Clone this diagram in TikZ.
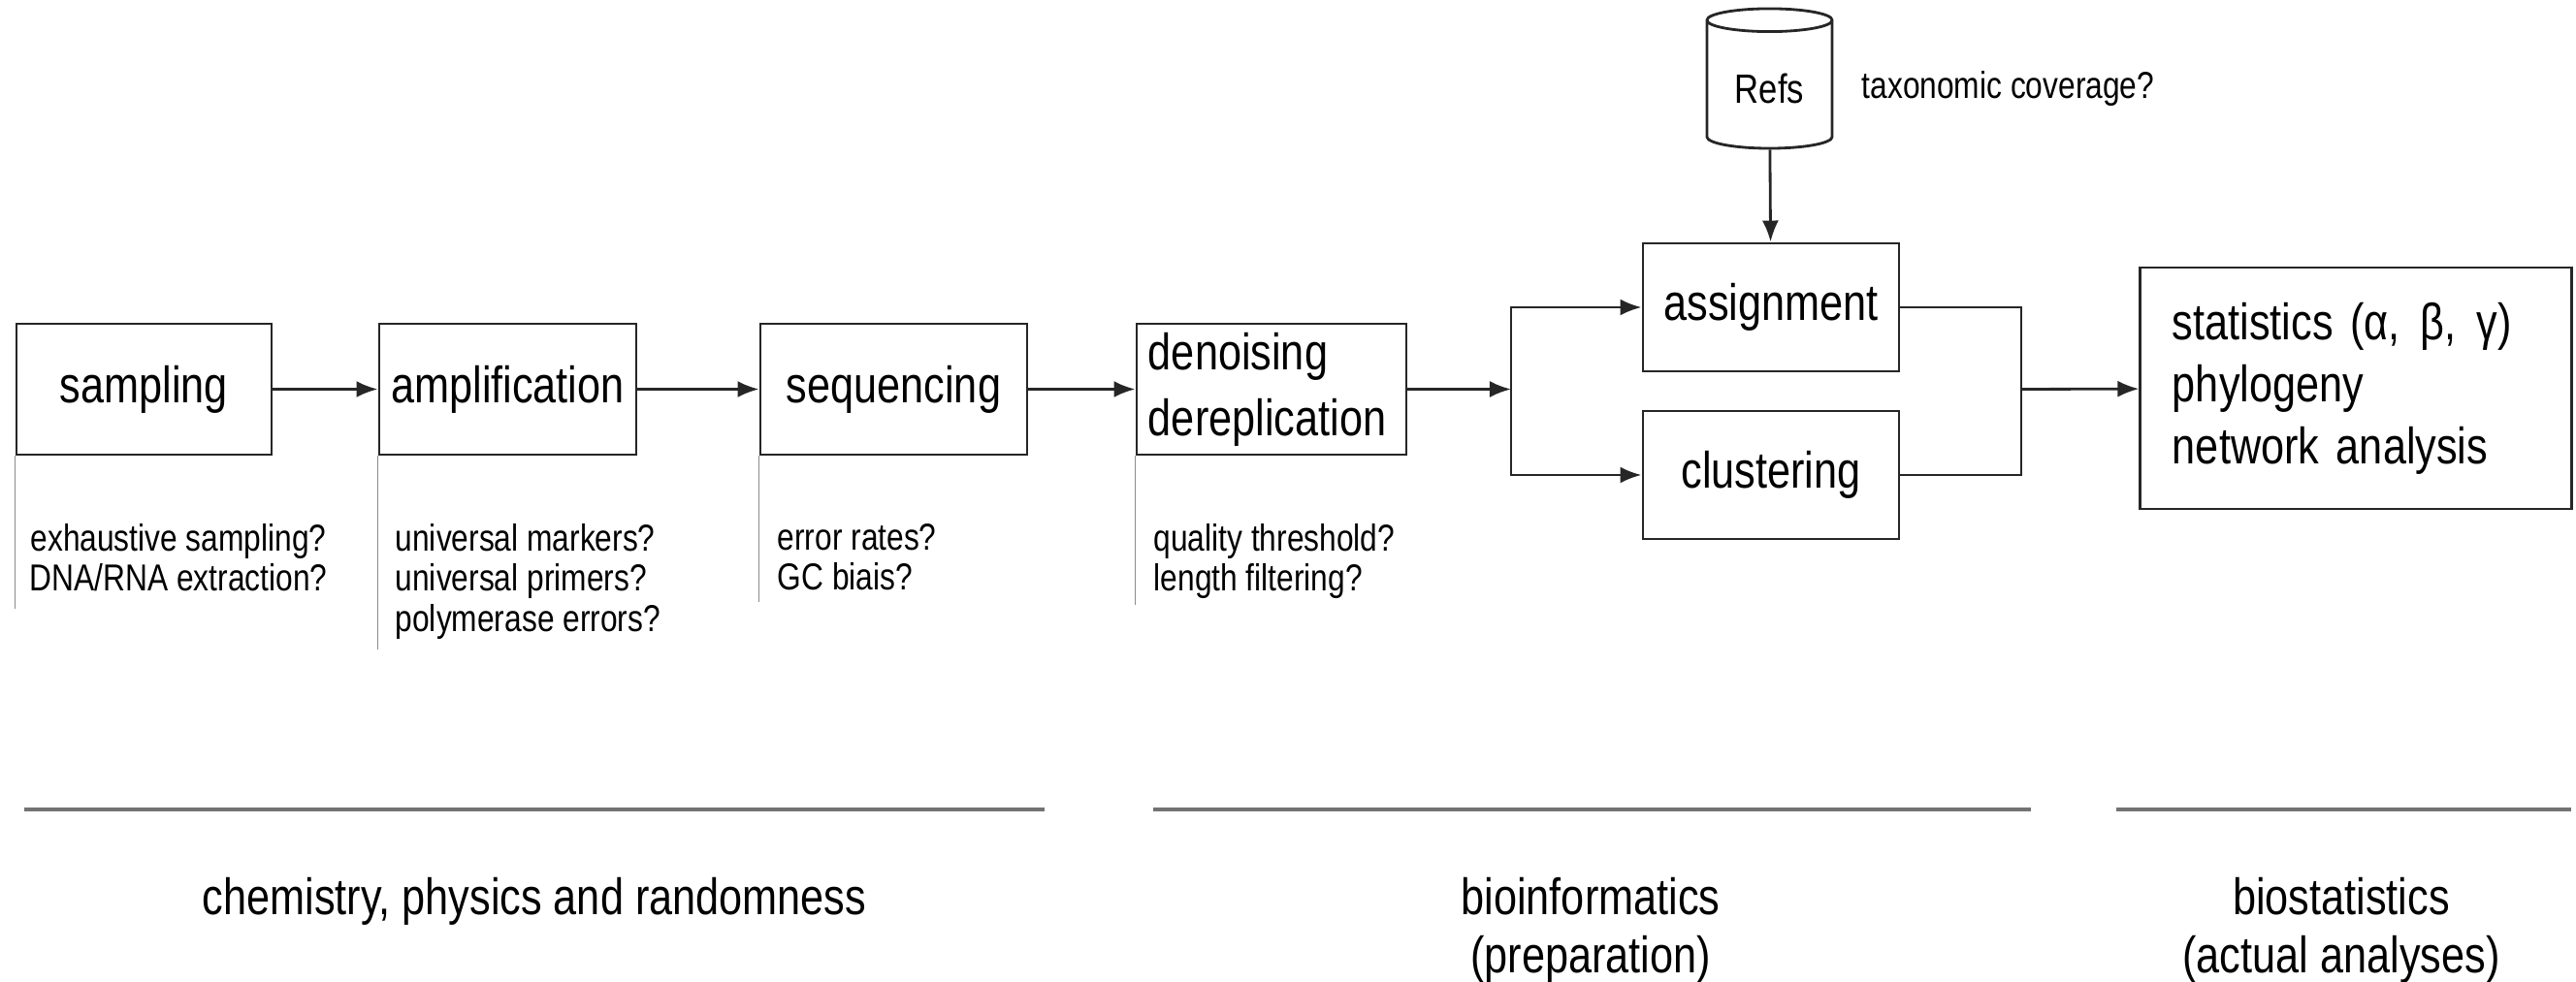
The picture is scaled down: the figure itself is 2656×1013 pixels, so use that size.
\documentclass[tikz,border=0pt]{standalone}
\usepackage{fontspec}
\setmainfont{Liberation Sans}[FakeStretch=0.82]
\usepackage{tikz}
\usetikzlibrary{shapes.geometric,arrows.meta}
\tikzstyle{stage} = [rectangle, draw=black!85, line width=0.8pt, minimum height=1.35cm, inner sep=0pt,
font=\fontsize{15}{19.3}\selectfont]
\tikzstyle{note} = [anchor=north west, inner sep=0pt, align=left, font=\fontsize{11}{11.7}\selectfont]
\tikzstyle{flow} = [-{Latex[length=0.22cm,width=0.17cm]}, line width=0.8pt, draw=black!85]
\tikzstyle{link} = [line width=0.8pt, draw=black!85]
\tikzstyle{guide} = [draw=black!45, line width=0.5pt]
\tikzstyle{fieldbar} = [draw=black!55, line width=1.3pt]
\tikzstyle{field} = [align=center, anchor=north, inner sep=0pt, font=\fontsize{15}{16.9}\selectfont]

\begin{document}
\begin{tikzpicture}[x=0.01cm, y=-0.01cm]
        \useasboundingbox (0,0) rectangle (2656,1013);

        % Wet lab stages
        \node[stage, minimum width=2.63cm] at (148.5,401.5) (sampling) {sampling};
        \node[stage, minimum width=2.65cm] at (523.5,401.5) (amplif) {amplification};
        \node[stage, minimum width=2.75cm] at (921.5,401.5) (sequencing) {sequencing};

        % Bioinformatics stages
        \node[stage, minimum width=2.78cm, text width=2.54cm, align=left] at (1311,401.5) (denoise)
            {denoising\\dereplication};
        \node[stage, minimum width=2.64cm, minimum height=1.32cm] at (1826,317) (assign) {assignment};
        \node[stage, minimum width=2.64cm, minimum height=1.32cm] at (1826,490) (clust) {clustering};
        \node[cylinder, shape border rotate=90, draw=black!85, line width=0.8pt, aspect=0.25,
            minimum width=1.29cm, minimum height=1.44cm, font=\fontsize{12}{14}\selectfont]
            at (1824.5,91) (refs) {Refs};

        % Analyses
        \node[stage, minimum width=4.44cm, minimum height=2.49cm, text width=3.78cm, align=left,
            font=\fontsize{15}{18.2}\selectfont] at (2429,400.5) (stats)
            {statistics (α,\kern1pt{} β,\kern1pt{} γ)\\phylogeny\\network analysis};

        \coordinate (split) at (1558,401.5);
        \coordinate (merge) at (2084,401.5);

        \draw[flow] (sampling) -- (amplif);
        \draw[flow] (amplif) -- (sequencing);
        \draw[flow] (sequencing) -- (denoise);
        \draw[flow] (denoise) -- (split);
        \draw[flow] (split) |- (assign.west);
        \draw[flow] (split) |- (clust.west);
        \draw[flow] (refs) -- (assign);
        \draw[link] (assign.east) -| (merge);
        \draw[link] (clust.east) -| (merge);
        \draw[flow] (merge) -- (stats);

        % Questions under each stage
        \draw[guide] (sampling.south west) -- ++(0,158);
        \draw[guide] (amplif.south west) -- ++(0,200);
        \draw[guide] (sequencing.south west) -- ++(0,151);
        \draw[guide] (denoise.south west) -- ++(0,154);

        \node[note, align=center] at (30,540) (samplenote) {exhaustive sampling?\\DNA/RNA extraction?};
        \node[note] at (407,540) (amplifnote) {universal markers?\\universal primers?\\polymerase errors?};
        \node[note] at (801,540) (seqnote) {error rates?\\GC biais?};
        \node[note] at (1189,540) (denoisenote) {quality threshold?\\length filtering?};
        \node[note, anchor=west] at (1919,92) (refsnote) {taxonomic coverage?};

        % Domains
        \draw[fieldbar] (25,835) -- (1077,835);
        \draw[fieldbar] (1189,835) -- (2094,835);
        \draw[fieldbar] (2182,835) -- (2651,835);

        \node[field] at (551,905) (chem) {chemistry, physics and randomness};
        \node[field] at (1640,905) (bioinf) {bioinformatics\\(preparation)};
        \node[field] at (2414,905) (biostat) {biostatistics\\(actual analyses)};
    \end{tikzpicture}
\end{document}
